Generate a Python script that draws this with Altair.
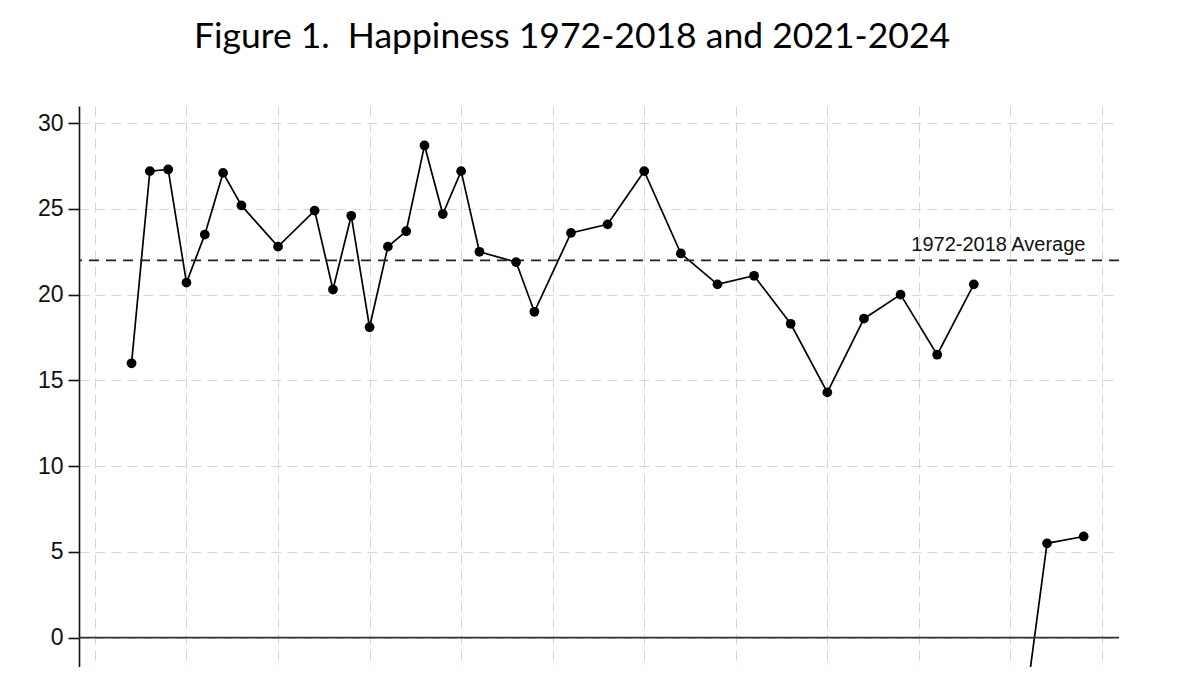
import altair as alt
import pandas as pd

# Survey years and values (1972-2018 series)
years_1 = [1972, 1973, 1974, 1975, 1976, 1977, 1978, 1980, 1982, 1983, 1984,
           1985, 1986, 1987, 1988, 1989, 1990, 1991, 1993, 1994, 1996, 1998,
           2000, 2002, 2004, 2006, 2008, 2010, 2012, 2014, 2016, 2018]
values_1 = [16.0, 27.2, 27.3, 20.7, 23.5, 27.1, 25.2, 22.8, 24.9, 20.3, 24.6,
            18.1, 22.8, 23.7, 28.7, 24.7, 27.2, 22.5, 21.9, 19.0, 23.6, 24.1,
            27.2, 22.4, 20.6, 21.1, 18.3, 14.3, 18.6, 20.0, 16.5, 20.6]

# 2021-2024 series
years_2 = [2021, 2022, 2024]
values_2 = [-2.5, 5.5, 5.9]

average_value = 22.0
average_label = "1972-2018 Average"
label_year = 2024.1

y_ticks = [0, 5, 10, 15, 20, 25, 30]
x_grid = [1970, 1975, 1980, 1985, 1990, 1995, 2000, 2005, 2010, 2015, 2020, 2025]

df = pd.concat([
    pd.DataFrame({"year": years_1, "value": values_1, "period": "1972-2018"}),
    pd.DataFrame({"year": years_2, "value": values_2, "period": "2021-2024"}),
], ignore_index=True)

x_enc = alt.X(
    "year:Q",
    scale=alt.Scale(domain=[1969.13, 2025.93], nice=False, zero=False),
    axis=alt.Axis(values=x_grid, labels=False, ticks=False, domain=False,
                  grid=True, gridColor="#d6d6d6", gridDash=[10, 6],
                  gridWidth=1, title=None),
)
y_enc = alt.Y(
    "value:Q",
    scale=alt.Scale(domain=[-1.71, 31], nice=False, zero=False),
    axis=alt.Axis(values=y_ticks, title=None, grid=True, gridColor="#d6d6d6",
                  gridDash=[10, 6], gridWidth=1, domain=True,
                  domainColor="#111111", domainWidth=1.6, tickColor="#111111",
                  tickWidth=1.6, tickSize=11, labelPadding=5,
                  labelFont="Liberation Sans", labelFontSize=23,
                  labelColor="#111111"),
)

base = alt.Chart(df)

zero_rule = alt.Chart(pd.DataFrame({"value": [0]})).mark_rule(
    color="#333333", strokeWidth=1.6
).encode(y=alt.Y("value:Q"))

avg_rule = alt.Chart(pd.DataFrame({"value": [average_value]})).mark_rule(
    color="#222222", strokeWidth=1.8, strokeDash=[10, 7]
).encode(y=alt.Y("value:Q"))

line = base.mark_line(color="black", strokeWidth=1.7, clip=True).encode(
    x=x_enc, y=y_enc, detail="period:N"
)
points = base.mark_circle(color="black", size=95, opacity=1, clip=True).encode(
    x=x_enc, y=y_enc
)

label = alt.Chart(pd.DataFrame({
    "year": [label_year], "value": [average_value], "text": [average_label]
})).mark_text(
    align="right", baseline="alphabetic", dy=-9, fontSize=20,
    font="Liberation Sans", color="#111111"
).encode(x=alt.X("year:Q"), y=alt.Y("value:Q"), text="text:N")

chart = alt.layer(line, zero_rule, avg_rule, points, label).properties(
    width=1040,
    height=561,
    autosize=alt.AutoSizeParams(type="none"),
    padding={"left": 71, "top": 98, "right": 60, "bottom": 0},
    title=alt.TitleParams(
        text="Figure 1.\u00a0 Happiness 1972-2018 and 2021-2024",
        font="Lato", fontSize=35.5, fontWeight="normal", color="#000000",
        anchor="middle", dx=-27, offset=51,
    ),
).configure_view(stroke=None)

chart.save("out.html", embed_options={"renderer": "svg", "actions": False})
